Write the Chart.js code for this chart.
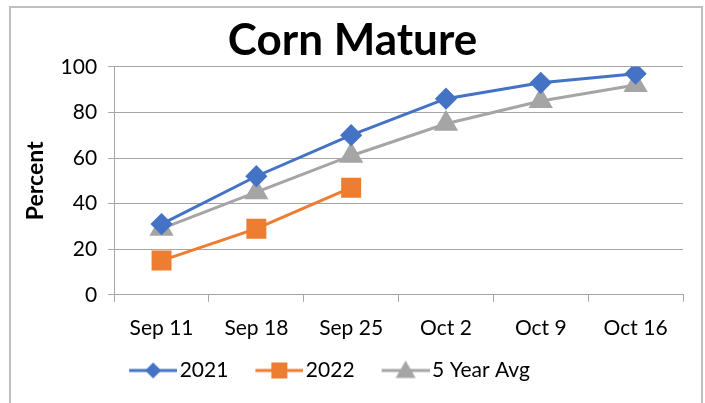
<!DOCTYPE html>
<html>
<head>
<meta charset="utf-8">
<script src="https://cdn.jsdelivr.net/npm/chart.js@4/dist/chart.umd.min.js"></script>
<style>
  body { margin: 0; background: #fff; }
  #frame {
    position: absolute; left: 9px; top: 6px;
    width: 690px; height: 395px;
    border: 2px solid #c0c0c0; border-bottom: none;
  }
</style>
</head>
<body>
<div id="frame"><canvas id="chart"></canvas></div>
<script>
const weeks = ['Sep 11', 'Sep 18', 'Sep 25', 'Oct 2', 'Oct 9', 'Oct 16'];
const y2021 = [31, 52, 70, 86, 93, 97];
const y2022 = [15, 29, 47, null, null, null];
const avg5 = [29, 45, 61, 75, 85, 92];
const yTicks = [0, 20, 40, 60, 80, 100];

const FONT = 'Lato';
const blue = '#4472C4', orange = '#ED7D31', grey = '#A5A5A5';

// legend picture: line with marker, drawn with a blank strip on the left
// so the gap between entries is wider than the gap to its own text
function legendIcon(color, style, r) {
    const c = document.createElement('canvas');
    c.width = 78; c.height = 24;
    const g = c.getContext('2d');
    const x0 = 30, mid = x0 + 24;
    g.strokeStyle = color; g.lineWidth = 3;
    g.beginPath(); g.moveTo(x0, 12); g.lineTo(x0 + 48, 12); g.stroke();
    g.fillStyle = color;
    g.beginPath();
    if (style === 'rectRot') {
        g.moveTo(mid, 12 - r); g.lineTo(mid + r, 12); g.lineTo(mid, 12 + r); g.lineTo(mid - r, 12);
    } else if (style === 'rect') {
        g.rect(mid - r, 12 - r, 2 * r, 2 * r);
    } else {
        g.moveTo(mid, 12 - r); g.lineTo(mid + r, 12 + r * 0.75); g.lineTo(mid - r, 12 + r * 0.75);
    }
    g.closePath(); g.fill();
    return c;
}

// excel puts the legend a bit left of centre
const shiftLegend = {
    id: 'shiftLegend',
    afterLayout(chart) {
        chart.legend.left -= 34;
        chart.legend.right -= 34;
    }
};

const ctx = document.querySelector('#chart').getContext('2d');

new Chart(ctx, {
    type: 'line',
    data: {
        labels: weeks,
        datasets: [
            {
                label: '2021', data: y2021,
                borderColor: blue, backgroundColor: blue, borderWidth: 3,
                pointStyle: 'rectRot', pointRadius: 9, pointHoverRadius: 9,
                legendIcon: legendIcon(blue, 'rectRot', 8)
            },
            {
                label: '2022', data: y2022,
                borderColor: orange, backgroundColor: orange, borderWidth: 3,
                pointStyle: 'rect', pointRadius: 12, pointHoverRadius: 12,
                legendIcon: legendIcon(orange, 'rect', 8)
            },
            {
                label: '5 Year Avg', data: avg5,
                borderColor: grey, backgroundColor: grey, borderWidth: 3,
                pointStyle: 'triangle', pointRadius: 11, pointHoverRadius: 11,
                legendIcon: legendIcon(grey, 'triangle', 10)
            }
        ]
    },
    plugins: [shiftLegend],
    options: {
        responsive: true,
        maintainAspectRatio: false,
        animation: false,
        layout: { padding: { left: 11, right: 18, top: 4, bottom: 12 } },
        plugins: {
            title: {
                display: true, text: 'Corn Mature', color: '#000',
                font: { family: FONT, size: 44, weight: 'bold' },
                padding: { top: 2, bottom: 0 }
            },
            legend: {
                position: 'bottom',
                labels: {
                    color: '#000',
                    font: { family: FONT, size: 21 },
                    usePointStyle: true,
                    pointStyleWidth: 62,
                    boxHeight: 20,
                    padding: 5,
                    generateLabels: (chart) => chart.data.datasets.map((ds, i) => ({
                        text: ds.label, pointStyle: ds.legendIcon,
                        fillStyle: ds.borderColor, strokeStyle: ds.borderColor,
                        lineWidth: 0, hidden: false, datasetIndex: i
                    }))
                }
            },
            tooltip: { enabled: false }
        },
        scales: {
            x: {
                offset: true,
                grid: { offset: true, drawOnChartArea: false, color: '#a6a6a6', tickLength: 7 },
                border: { color: '#a6a6a6' },
                ticks: { color: '#000', font: { family: FONT, size: 21 }, padding: 14, maxRotation: 0 }
            },
            y: {
                min: 0, max: 100,
                afterBuildTicks: (axis) => { axis.ticks = yTicks.map(v => ({ value: v })); },
                grid: { color: '#a6a6a6', tickLength: 6 },
                border: { color: '#a6a6a6' },
                ticks: { color: '#000', font: { family: FONT, size: 21 }, padding: 11 },
                title: {
                    display: true, text: 'Percent', color: '#000',
                    font: { family: FONT, size: 23, weight: 'bold' }, padding: 0
                }
            }
        }
    }
})
</script>
</body>
</html>
